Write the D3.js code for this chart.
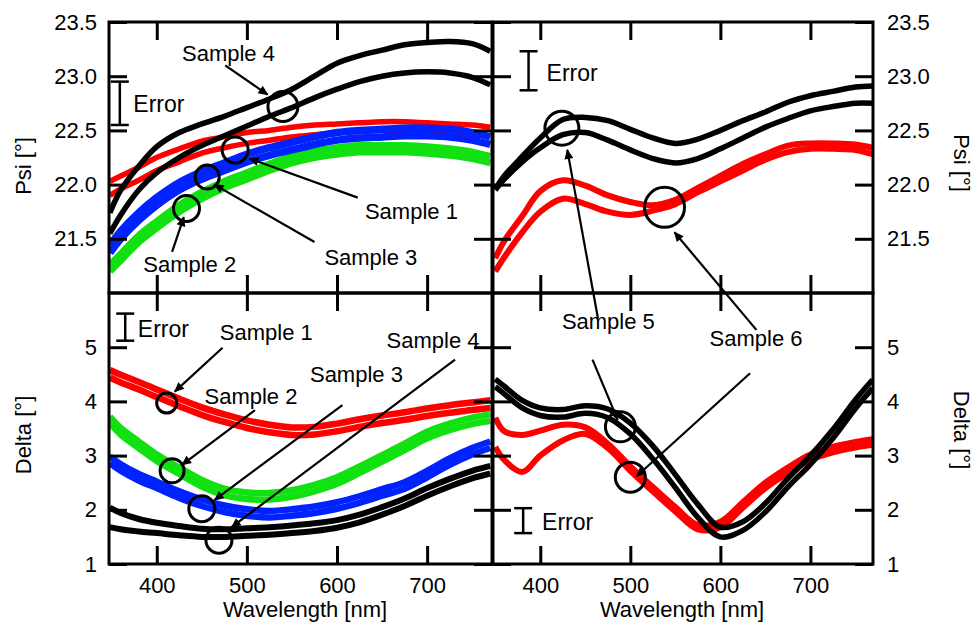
<!DOCTYPE html>
<html><head><meta charset="utf-8">
<script src="https://cdn.jsdelivr.net/npm/d3@7"></script>
<style>
body{margin:0;background:#fff;}
text{font-family:"Liberation Sans",Arial,Helvetica,sans-serif;}
</style></head><body>
<svg id="c" width="974" height="624"></svg>
<script>
// ---------- DATA ----------
const wlL = [348, 360, 380, 400, 425, 450, 475, 500, 525, 550, 575, 600, 625, 650, 675, 700, 725, 750, 770];
const wlR = [350, 360, 380, 400, 425, 450, 475, 500, 525, 550, 575, 600, 625, 650, 675, 700, 725, 750, 769];
const xTicks = [400, 500, 600, 700];
const psiTicks = [21.5, 22.0, 22.5, 23.0, 23.5];
const deltaTicks = [1, 2, 3, 4, 5];

// Psi, samples 1-4 (left panel)
const psiS1a = [22.03, 22.08, 22.16, 22.25, 22.33, 22.40, 22.44, 22.48, 22.50, 22.53, 22.55, 22.56, 22.57, 22.58, 22.58, 22.57, 22.56, 22.55, 22.53];
const psiS1b = [21.90, 21.96, 22.04, 22.13, 22.21, 22.29, 22.34, 22.38, 22.41, 22.44, 22.46, 22.48, 22.49, 22.50, 22.50, 22.49, 22.48, 22.46, 22.45];
const psiS2a = [21.26, 21.36, 21.53, 21.66, 21.81, 21.93, 22.03, 22.11, 22.19, 22.26, 22.31, 22.34, 22.36, 22.36, 22.36, 22.35, 22.33, 22.30, 22.26];
const psiS2b = [21.20, 21.30, 21.47, 21.60, 21.75, 21.87, 21.97, 22.05, 22.13, 22.20, 22.25, 22.28, 22.30, 22.30, 22.30, 22.29, 22.27, 22.24, 22.20];
const psiS3a = [21.44, 21.57, 21.74, 21.88, 22.02, 22.12, 22.20, 22.28, 22.34, 22.39, 22.44, 22.48, 22.50, 22.51, 22.52, 22.52, 22.51, 22.48, 22.44];
const psiS3b = [21.37, 21.50, 21.67, 21.81, 21.95, 22.05, 22.13, 22.21, 22.27, 22.32, 22.37, 22.41, 22.43, 22.44, 22.45, 22.45, 22.44, 22.41, 22.37];
const psiS4a = [21.74, 21.95, 22.17, 22.35, 22.48, 22.56, 22.63, 22.71, 22.79, 22.88, 23.00, 23.12, 23.19, 23.24, 23.29, 23.31, 23.32, 23.30, 23.23];
const psiS4b = [21.55, 21.72, 21.95, 22.11, 22.25, 22.36, 22.45, 22.54, 22.63, 22.71, 22.80, 22.88, 22.95, 23.00, 23.03, 23.04, 23.03, 22.99, 22.92];
// Psi, samples 5-6 (right panel)
const psiS5a = [21.96, 22.08, 22.26, 22.43, 22.60, 22.62, 22.59, 22.51, 22.43, 22.38, 22.42, 22.50, 22.59, 22.67, 22.76, 22.82, 22.86, 22.90, 22.91];
const psiS5b = [21.95, 22.05, 22.21, 22.34, 22.46, 22.48, 22.41, 22.32, 22.24, 22.20, 22.24, 22.33, 22.43, 22.53, 22.61, 22.68, 22.72, 22.75, 22.75];
const psiS6a = [21.32, 21.48, 21.71, 21.94, 22.04, 21.99, 21.90, 21.84, 21.81, 21.86, 21.97, 22.08, 22.19, 22.28, 22.36, 22.38, 22.38, 22.37, 22.34];
const psiS6b = [21.20, 21.33, 21.56, 21.75, 21.87, 21.82, 21.75, 21.72, 21.76, 21.82, 21.93, 22.03, 22.13, 22.23, 22.30, 22.33, 22.33, 22.32, 22.28];
// Delta, samples 1-4 (left panel)
const delS1a = [4.58, 4.49, 4.36, 4.22, 4.05, 3.89, 3.76, 3.65, 3.57, 3.52, 3.53, 3.59, 3.67, 3.74, 3.80, 3.87, 3.93, 3.98, 4.02];
const delS1b = [4.44, 4.35, 4.22, 4.08, 3.91, 3.75, 3.62, 3.51, 3.43, 3.38, 3.39, 3.45, 3.53, 3.60, 3.66, 3.73, 3.79, 3.84, 3.88];
const delS2a = [3.72, 3.51, 3.26, 3.02, 2.78, 2.55, 2.39, 2.32, 2.31, 2.36, 2.46, 2.60, 2.80, 3.01, 3.22, 3.44, 3.59, 3.70, 3.76];
const delS2b = [3.60, 3.39, 3.14, 2.90, 2.66, 2.43, 2.27, 2.20, 2.19, 2.24, 2.34, 2.48, 2.68, 2.89, 3.10, 3.32, 3.47, 3.58, 3.64];
const delS3a = [2.98, 2.84, 2.66, 2.52, 2.34, 2.19, 2.08, 2.01, 1.98, 2.01, 2.06, 2.14, 2.25, 2.38, 2.51, 2.72, 2.95, 3.14, 3.26];
const delS3b = [2.86, 2.72, 2.54, 2.40, 2.22, 2.07, 1.96, 1.89, 1.86, 1.89, 1.94, 2.02, 2.13, 2.26, 2.39, 2.60, 2.83, 3.02, 3.14];
const delS4a = [2.04, 1.94, 1.83, 1.76, 1.70, 1.65, 1.64, 1.66, 1.68, 1.71, 1.75, 1.81, 1.91, 2.05, 2.21, 2.40, 2.57, 2.72, 2.81];
const delS4b = [1.68, 1.64, 1.60, 1.57, 1.53, 1.50, 1.50, 1.52, 1.54, 1.57, 1.61, 1.67, 1.77, 1.91, 2.07, 2.26, 2.43, 2.58, 2.67];
// Delta, samples 5-6 (right panel)
const delS5a = [4.41, 4.28, 4.02, 3.88, 3.85, 3.92, 3.86, 3.60, 3.18, 2.65, 2.10, 1.68, 1.78, 2.12, 2.58, 3.00, 3.48, 4.03, 4.40];
const delS5b = [4.27, 4.14, 3.88, 3.74, 3.71, 3.78, 3.70, 3.40, 2.94, 2.41, 1.86, 1.50, 1.62, 1.96, 2.42, 2.84, 3.32, 3.87, 4.24];
const delS6a = [3.70, 3.45, 3.38, 3.46, 3.57, 3.52, 3.22, 2.80, 2.42, 2.05, 1.72, 1.78, 2.14, 2.50, 2.78, 3.02, 3.16, 3.25, 3.30];
const delS6b = [3.16, 2.92, 2.70, 3.00, 3.28, 3.40, 3.14, 2.72, 2.34, 1.97, 1.64, 1.68, 2.04, 2.40, 2.68, 2.92, 3.06, 3.15, 3.20];

// Annotations (data coordinates: wavelength, value)
const labelsTL = [["Sample 4", 428, 23.14], ["Sample 1", 631, 21.68], ["Sample 3", 586, 21.26], ["Sample 2", 385, 21.19]];
const circlesTL = [[540, 22.72], [487, 22.32], [456, 22.07], [433, 21.78]];
const radiiTL = [15, 13, 12, 13];
const arrowsTL = [[476, 23.10, 523, 22.83], [623, 21.88, 503, 22.24], [575, 21.47, 464, 22.00], [417, 21.38, 430, 21.70]];
const errorTL = [359, 22.75, 0.2, 374, 22.67];

const circlesTR = [[424, 22.52], [538, 21.79]];
const radiiTR = [17, 20];
const arrowsCross = [[464, 5.54, 430, 22.32], [640, 5.32, 549, 21.56]]; // from bottom-right panel to top-right panel
const errorTR = [387, 23.05, 0.18, 407, 22.96];

const labelsBL = [["Sample 1", 470, 5.14], ["Sample 2", 453, 3.95], ["Sample 3", 570, 4.36], ["Sample 4", 655, 4.99]];
const circlesBL = [[411, 3.97], [417, 2.72], [450, 2.02], [469, 1.44]];
const radiiBL = [10, 12, 13, 13];
const arrowsBL = [[473, 4.99, 420, 4.18], [509, 3.84, 428, 2.83], [606, 3.93, 464, 2.18], [731, 4.77, 483, 1.68]];
const errorBL = [365, 5.37, 0.25, 379, 5.19];

const labelsBR = [["Sample 5", 424, 5.33], ["Sample 6", 588, 5.02]];
const circlesBR = [[489, 3.53], [500, 2.60]];
const radiiBR = [15, 15];
const arrowsBR = [[458, 4.77, 486, 3.66], [633, 4.52, 507, 2.62]];
const errorBR = [381, 1.80, 0.23, 402, 1.63];

// ---------- DRAW ----------
const RED = "#ff0000", GREEN = "#11e011", BLUE = "#0022ff", BLACK = "#000000";
const svg = d3.select("#c");
const FS = 22;
const xL = d3.scaleLinear().domain([347, 772]).range([109, 492]);
const xR = d3.scaleLinear().domain([347.5, 769.5]).range([493, 873]);
const yT = d3.scaleLinear().domain([21, 23.5]).range([293, 22]);
const yB = d3.scaleLinear().domain([1, 6]).range([564, 293]);

const defs = svg.append("defs");
defs.append("marker").attr("id", "ah").attr("viewBox", "0 0 10 10")
  .attr("refX", 9).attr("refY", 5).attr("markerWidth", 14).attr("markerHeight", 10)
  .attr("markerUnits", "userSpaceOnUse").attr("orient", "auto")
  .append("path").attr("d", "M0,0.5 L10,5 L0,9.5 Z").attr("fill", "#000");

const panels = [
  {id: "tl", x: xL, y: yT, wl: wlL, lines: [[psiS1a, RED, 5.5], [psiS1b, RED, 5.5], [psiS2a, GREEN, 7], [psiS2b, GREEN, 7], [psiS3a, BLUE, 7.5], [psiS3b, BLUE, 7.5], [psiS4a, BLACK, 5.5], [psiS4b, BLACK, 5.5]], yTicks: psiTicks, fmt: d3.format(".1f"), left: true, bottom: false},
  {id: "tr", x: xR, y: yT, wl: wlR, lines: [[psiS6a, RED, 6], [psiS6b, RED, 6], [psiS5a, BLACK, 5.5], [psiS5b, BLACK, 5.5]], yTicks: psiTicks, fmt: d3.format(".1f"), left: false, bottom: false},
  {id: "bl", x: xL, y: yB, wl: wlL, lines: [[delS1a, RED, 6.5], [delS1b, RED, 6.5], [delS2a, GREEN, 6.5], [delS2b, GREEN, 6.5], [delS3a, BLUE, 6.5], [delS3b, BLUE, 6.5], [delS4a, BLACK, 6], [delS4b, BLACK, 6]], yTicks: deltaTicks, fmt: d3.format("d"), left: true, bottom: true},
  {id: "br", x: xR, y: yB, wl: wlR, lines: [[delS6a, RED, 6], [delS6b, RED, 6], [delS5a, BLACK, 5.5], [delS5b, BLACK, 5.5]], yTicks: deltaTicks, fmt: d3.format("d"), left: false, bottom: true}
];

panels.forEach(p => {
  const [x0, x1] = p.x.range();
  const [y0, y1] = [p.y.range()[1], p.y.range()[0]];
  defs.append("clipPath").attr("id", "clip-" + p.id).append("rect")
    .attr("x", x0).attr("y", y0).attr("width", x1 - x0).attr("height", y1 - y0);
  const g = svg.append("g").attr("clip-path", `url(#clip-${p.id})`);
  const line = d3.line().x((d, i) => p.x(p.wl[i])).y(d => p.y(d)).curve(d3.curveCatmullRom.alpha(0.5));
  p.lines.forEach(([vals, col, sw]) => {
    g.append("path").attr("d", line(vals)).attr("fill", "none").attr("stroke", col)
      .attr("stroke-width", sw).attr("stroke-linejoin", "round");
  });
});

function styleAxis(sel) {
  sel.select(".domain").remove();
  sel.selectAll(".tick line").attr("stroke", "#000").attr("stroke-width", 3);
  sel.attr("font-size", FS).attr("font-family", '"Liberation Sans",Arial,sans-serif');
  sel.selectAll(".tick text").attr("fill", "#000");
}

panels.forEach(p => {
  const [x0, x1] = p.x.range();
  const yBot = p.y.range()[0], yTop = p.y.range()[1];
  svg.append("g").attr("transform", `translate(0,${yBot})`)
    .call(d3.axisBottom(p.x).tickValues(xTicks).tickSize(-18).tickPadding(13).tickFormat(p.bottom ? d3.format("d") : () => ""))
    .call(styleAxis);
  svg.append("g").attr("transform", `translate(0,${yTop})`)
    .call(d3.axisTop(p.x).tickValues(xTicks).tickSize(-18).tickFormat(() => ""))
    .call(styleAxis);
  svg.append("g").attr("transform", `translate(${x0},0)`)
    .call(d3.axisLeft(p.y).tickValues(p.yTicks).tickSize(-18).tickPadding(12).tickFormat(p.left ? p.fmt : () => ""))
    .call(styleAxis);
  svg.append("g").attr("transform", `translate(${x1},0)`)
    .call(d3.axisRight(p.y).tickValues(p.yTicks).tickSize(-18).tickPadding(14).tickFormat(p.left ? () => "" : p.fmt))
    .call(styleAxis);
  svg.append("rect").attr("x", x0).attr("y", yTop).attr("width", x1 - x0).attr("height", yBot - yTop)
    .attr("fill", "none").attr("stroke", "#000").attr("stroke-width", 3);
});

// annotations
const ann = svg.append("g");
function labels(arr, x, y) {
  arr.forEach(([t, w, v]) => ann.append("text").attr("x", x(w)).attr("y", y(v)).attr("font-size", FS).attr("fill", "#000").text(t));
}
function circles(arr, radii, x, y) {
  arr.forEach(([w, v], i) => ann.append("circle").attr("cx", x(w)).attr("cy", y(v)).attr("r", radii[i])
    .attr("fill", "none").attr("stroke", "#000").attr("stroke-width", 3));
}
function arrows(arr, x, yA, yB2) {
  arr.forEach(([w1, v1, w2, v2]) => ann.append("line").attr("x1", x(w1)).attr("y1", yA(v1)).attr("x2", x(w2)).attr("y2", yB2(v2))
    .attr("stroke", "#000").attr("stroke-width", 2.2).attr("marker-end", "url(#ah)"));
}
function errorBar(e, x, y) {
  const [w, c, h, tw, tv] = e;
  const cx = x(w), ya = y(c + h), yb = y(c - h);
  ann.append("line").attr("x1", cx).attr("x2", cx).attr("y1", ya).attr("y2", yb).attr("stroke", "#000").attr("stroke-width", 2.5);
  [ya, yb].forEach(yy => ann.append("line").attr("x1", cx - 9).attr("x2", cx + 9).attr("y1", yy).attr("y2", yy).attr("stroke", "#000").attr("stroke-width", 2.5));
  ann.append("text").attr("x", x(tw)).attr("y", y(tv)).attr("font-size", 23).attr("fill", "#000").text("Error");
}

labels(labelsTL, xL, yT); circles(circlesTL, radiiTL, xL, yT); arrows(arrowsTL, xL, yT, yT); errorBar(errorTL, xL, yT);
circles(circlesTR, radiiTR, xR, yT); arrows(arrowsCross, xR, yB, yT); errorBar(errorTR, xR, yT);
labels(labelsBL, xL, yB); circles(circlesBL, radiiBL, xL, yB); arrows(arrowsBL, xL, yB, yB); errorBar(errorBL, xL, yB);
labels(labelsBR, xR, yB); circles(circlesBR, radiiBR, xR, yB); arrows(arrowsBR, xR, yB, yB); errorBar(errorBR, xR, yB);

// axis titles
function title(t, x, y, rot) {
  svg.append("text").attr("transform", `translate(${x},${y}) rotate(${rot})`).attr("text-anchor", "middle")
    .attr("font-size", FS).attr("fill", "#000").text(t);
}
title("Psi [°]", 31, 166, -90);
title("Delta [°]", 31, 435, -90);
title("Psi [°]", 954, 163, 90);
title("Delta [°]", 954, 430, 90);
title("Wavelength [nm]", 305, 617, 0);
title("Wavelength [nm]", 682, 617, 0);
</script>
</body></html>
